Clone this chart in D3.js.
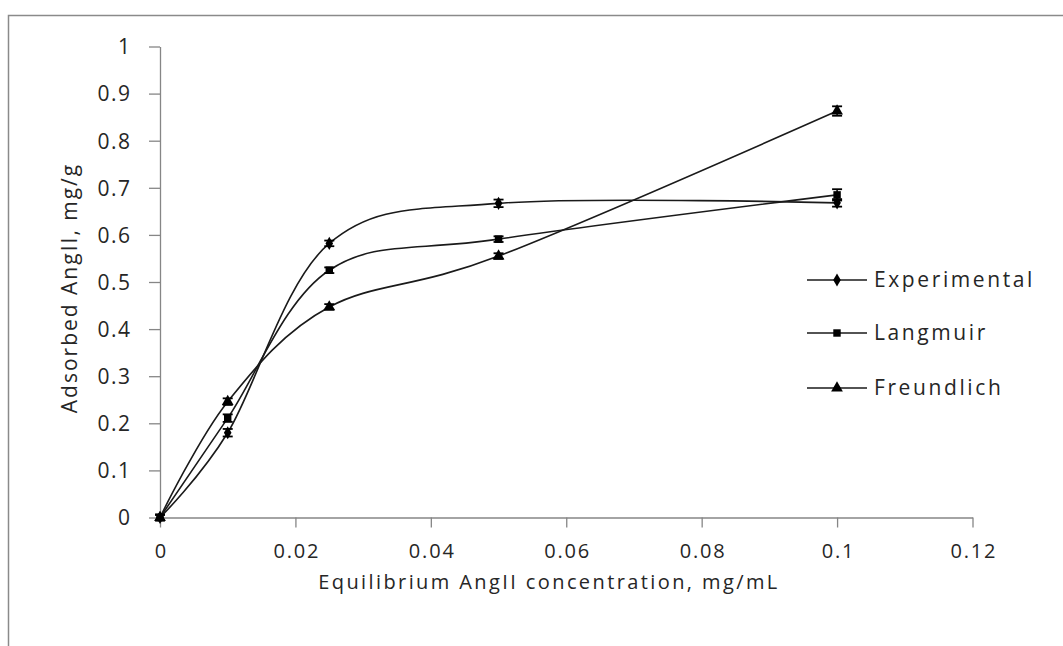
<!DOCTYPE html>
<html><head><meta charset="utf-8">
<script src="https://cdn.jsdelivr.net/npm/d3@7"></script>
<style>
html,body{margin:0;padding:0;background:#fff;}
svg text{font-family:"Open Sans",sans-serif;fill:#262626;}
</style></head>
<body><svg id="c" width="1063" height="646"></svg>
<script>
const concentrations = [0, 0.01, 0.025, 0.05, 0.1];
const experimental = [0, 0.180, 0.582, 0.667, 0.668];
const langmuir     = [0, 0.211, 0.525, 0.591, 0.685];
const freundlich   = [0, 0.246, 0.447, 0.555, 0.863];
const expErr  = [0.006, 0.008, 0.006, 0.008, 0.008];
const langErr = [0.006, 0.008, 0.006, 0.006, 0.012];
const freErr  = [0.006, 0.007, 0.006, 0.006, 0.010];
const xTicks = [0, 0.02, 0.04, 0.06, 0.08, 0.1, 0.12];
const xTickLabels = ["0","0.02","0.04","0.06","0.08","0.1","0.12"];
const yTicks = [0,0.1,0.2,0.3,0.4,0.5,0.6,0.7,0.8,0.9,1];
const yTickLabels = ["0","0.1","0.2","0.3","0.4","0.5","0.6","0.7","0.8","0.9","1"];
const seriesNames = ["Experimental","Langmuir","Freundlich"];
const seriesShapes = ["diamond","square","triangle"];

const FS = 21, FSX = 20;
const svg = d3.select("#c");
svg.append("path").attr("d","M8.5,646V15.5H1063").attr("fill","none").attr("stroke","#8a8a8a").attr("stroke-width",1.5);

const x = d3.scaleLinear().domain([0,0.12]).range([160,972.5]);
const y = d3.scaleLinear().domain([0,1]).range([517.5,46.5]);
const axisColor = "#868686";

const gx = svg.append("g").attr("transform","translate(0,517.5)")
  .call(d3.axisBottom(x).tickValues(xTicks).tickFormat((d,i)=>xTickLabels[i]).tickSize(10).tickSizeOuter(0));
const gy = svg.append("g").attr("transform","translate(160,0)")
  .call(d3.axisLeft(y).tickValues(yTicks).tickFormat((d,i)=>yTickLabels[i]).tickSize(11).tickSizeOuter(0));
[gx,gy].forEach(g=>{
  g.select(".domain").attr("stroke",axisColor).attr("stroke-width",1.3);
  g.selectAll(".tick line").attr("stroke",axisColor).attr("stroke-width",1.3);
  g.selectAll(".tick text").attr("font-family","Open Sans").attr("fill","#262626");
});
gy.selectAll(".tick text").attr("font-size",FS).attr("letter-spacing",1.5).attr("x",-28.5).attr("dy","0.35em");
gx.selectAll(".tick text").attr("font-size",FSX).attr("letter-spacing",1.8).attr("y",33).attr("dy","0.35em").attr("dx",0.9);

svg.append("text").attr("x",549).attr("y",589).attr("text-anchor","middle").attr("font-size",FSX)
  .attr("letter-spacing",2.4).text("Equilibrium AngII concentration, mg/mL");
svg.append("text").attr("transform","translate(77,288) rotate(-90)").attr("text-anchor","middle").attr("font-size",FS)
  .attr("letter-spacing",2).text("Adsorbed AngII, mg/g");

const allSeries = [experimental, langmuir, freundlich];
const allErr = [expErr, langErr, freErr];
const line = d3.line().x(d=>x(d[0])).y(d=>y(d[1])).curve(d3.curveCardinal.tension(0));
const sym = {diamond:d3.symbolDiamond, square:d3.symbolSquare, triangle:d3.symbolTriangle};
const symSize = {diamond:50, square:55, triangle:60};

allSeries.forEach((vals,si)=>{
  const pts = concentrations.map((c,i)=>[c,vals[i]]);
  svg.append("path").attr("d",line(pts)).attr("fill","none").attr("stroke","#1a1a1a").attr("stroke-width",1.6);
});
allSeries.forEach((vals,si)=>{
  const g = svg.append("g");
  concentrations.forEach((c,i)=>{
    const cx = x(c), e = allErr[si][i];
    const y1 = y(vals[i]+e), y2 = y(vals[i]-e);
    g.append("line").attr("x1",cx).attr("x2",cx).attr("y1",y1).attr("y2",y2).attr("stroke","#000").attr("stroke-width",1.5);
    g.append("line").attr("x1",cx-5).attr("x2",cx+5).attr("y1",y1).attr("y2",y1).attr("stroke","#000").attr("stroke-width",1.8);
    g.append("line").attr("x1",cx-5).attr("x2",cx+5).attr("y1",y2).attr("y2",y2).attr("stroke","#000").attr("stroke-width",1.8);
    g.append("path").attr("transform",`translate(${cx},${y(vals[i])})`)
      .attr("d",d3.symbol().type(sym[seriesShapes[si]]).size(symSize[seriesShapes[si]])()).attr("fill","#000");
  });
});

const legY = [280, 333, 388];
seriesNames.forEach((n,i)=>{
  svg.append("line").attr("x1",807).attr("x2",867).attr("y1",legY[i]).attr("y2",legY[i]).attr("stroke","#1a1a1a").attr("stroke-width",1.6);
  svg.append("path").attr("transform",`translate(837,${legY[i]})`)
    .attr("d",d3.symbol().type(sym[seriesShapes[i]]).size(symSize[seriesShapes[i]])()).attr("fill","#000");
  svg.append("text").attr("x",874).attr("y",legY[i]).attr("dy","0.35em").attr("font-size",FS).attr("letter-spacing",2.6).text(n);
});
</script></body></html>
